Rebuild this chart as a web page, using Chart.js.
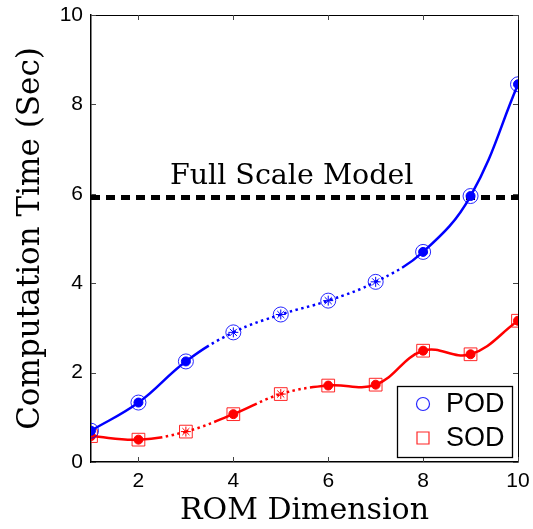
<!DOCTYPE html>
<html>
<head>
<meta charset="utf-8">
<script src="https://cdn.jsdelivr.net/npm/chart.js@4.4.0/dist/chart.umd.min.js"></script>
<style>
  html, body { margin: 0; padding: 0; background: #fff; }
  #wrap { width: 533px; height: 529px; }
</style>
</head>
<body>
<div id="wrap"><canvas id="romChart" width="533" height="529"></canvas></div>
<script>
// values
const romDims = [1, 2, 3, 4, 5, 6, 7, 8, 9, 10];
const podTime = [0.70, 1.33, 2.25, 2.90, 3.30, 3.61, 4.03, 4.70, 5.95, 8.45];
const sodTime = [0.58, 0.50, 0.68, 1.07, 1.52, 1.71, 1.73, 2.49, 2.41, 3.16];
// 'dot' = computed point, 'star' = interpolated point (dotted line around it)
const podMarks = ['dot', 'dot', 'dot', 'star', 'star', 'star', 'star', 'dot', 'dot', 'dot'];
const sodMarks = ['dot', 'dot', 'star', 'dot', 'star', 'dot', 'dot', 'dot', 'dot', 'dot'];
const fullScaleTime = 5.92;
const fullScaleLabel = 'Full Scale Model';
const xTickValues = [2, 4, 6, 8, 10];
const yTickValues = [0, 2, 4, 6, 8, 10];

const BLUE = '#0000ff';
const RED = '#ff0000';
const DOT = 2.5, GAP = 3.5;

function dotRun(len) {
    const out = [];
    const n = Math.ceil(len / (DOT + GAP));
    for (let i = 0; i < n; i++) out.push(DOT, GAP);
    return out;
}

// solid between computed points, dotted around interpolated ones (switching half way)
function dashFor(marks) {
    return function(ctx) {
        const a = marks[ctx.p0DataIndex] === 'star';
        const b = marks[ctx.p1DataIndex] === 'star';
        if (!a && !b) return [];
        if (a && b) return [DOT, GAP];
        const d = Math.hypot(ctx.p1.x - ctx.p0.x, ctx.p1.y - ctx.p0.y);
        if (b) return [d / 2, GAP].concat(dotRun(d / 2 + 30));
        return dotRun(d / 2).concat([d * 3, 1]);
    };
}

const toXY = vals => romDims.map((x, i) => ({ x: x, y: vals[i] }));

const frameAndLegend = {
    id: 'frameAndLegend',
    afterDatasetsDraw(chart, args, opts) {
        const { ctx, scales: { x, y } } = chart;
        ctx.save();
        // "Full Scale Model" label
        ctx.fillStyle = '#000';
        ctx.font = '28.5px "DejaVu Serif"';
        ctx.textAlign = 'center';
        ctx.textBaseline = 'alphabetic';
        ctx.fillText(fullScaleLabel, x.getPixelForValue(opts.labelAt[0]), y.getPixelForValue(opts.labelAt[1]));
        ctx.restore();
    },
    afterDraw(chart, args, opts) {
        const { ctx, chartArea: a, scales: { x, y } } = chart;
        ctx.save();
        // top + right edges of the box
        ctx.strokeStyle = '#000';
        ctx.lineWidth = 1;
        ctx.beginPath();
        ctx.moveTo(a.left, a.top + 0.5);
        ctx.lineTo(a.right + 0.5, a.top + 0.5);
        ctx.lineTo(a.right + 0.5, a.bottom);
        ctx.stroke();

        // inward tick marks on all four sides
        ctx.strokeStyle = '#444';
        ctx.beginPath();
        xTickValues.forEach(v => {
            const px = Math.round(x.getPixelForValue(v)) + 0.5;
            ctx.moveTo(px, a.bottom); ctx.lineTo(px, a.bottom - 5);
            ctx.moveTo(px, a.top); ctx.lineTo(px, a.top + 5);
        });
        yTickValues.forEach(v => {
            const py = Math.round(y.getPixelForValue(v)) + 0.5;
            ctx.moveTo(a.left, py); ctx.lineTo(a.left + 5, py);
            ctx.moveTo(a.right, py); ctx.lineTo(a.right - 5, py);
        });
        ctx.stroke();

        // legend box in the lower right corner
        const items = chart.data.datasets.filter(ds => ds.inLegend);
        const w = 115, h = 71;
        const bx = a.right - 6 - w, by = a.bottom - 5 - h;
        ctx.fillStyle = '#fff';
        ctx.fillRect(bx, by, w, h);
        ctx.strokeStyle = '#000';
        ctx.lineWidth = 1.3;
        ctx.strokeRect(bx + 0.5, by + 0.5, w, h);
        ctx.font = '27px "Liberation Sans"';
        ctx.textAlign = 'left';
        ctx.textBaseline = 'middle';
        items.forEach((ds, i) => {
            const cy = by + 18 + i * 34;
            const cx = bx + 26;
            ctx.strokeStyle = ds.pointBorderColor;
            ctx.lineWidth = 1.2;
            ctx.beginPath();
            if (ds.pointStyle === 'rect') {
                ctx.rect(cx - 6, cy - 6, 12, 12);
            } else {
                ctx.arc(cx, cy, 6.5, 0, Math.PI * 2);
            }
            ctx.stroke();
            ctx.fillStyle = '#000';
            ctx.fillText(ds.label, bx + 49, cy + 1);
        });
        ctx.restore();
    }
};

new Chart(document.getElementById('romChart'), {
    type: 'line',
    data: {
        datasets: [
            {
                label: 'POD',
                inLegend: true,
                data: toXY(podTime),
                showLine: false,
                pointStyle: 'circle',
                pointRadius: 7.5,
                pointBorderWidth: 1,
                pointBorderColor: 'rgba(0, 0, 255, 0.85)',
                pointBackgroundColor: 'rgba(0, 0, 0, 0)'
            },
            {
                label: 'POD curve',
                data: toXY(podTime),
                borderColor: BLUE,
                borderWidth: 2.5,
                tension: 0.4,
                pointStyle: podMarks.map(m => m === 'star' ? 'star' : 'circle'),
                pointRadius: podMarks.map(m => m === 'star' ? 5 : 4.5),
                pointBorderWidth: 1,
                pointBorderColor: BLUE,
                pointBackgroundColor: BLUE,
                segment: { borderDash: dashFor(podMarks) }
            },
            {
                label: 'SOD',
                inLegend: true,
                data: toXY(sodTime),
                showLine: false,
                pointStyle: 'rect',
                pointRadius: 9,
                pointBorderWidth: 1,
                pointBorderColor: 'rgba(255, 0, 0, 0.85)',
                pointBackgroundColor: 'rgba(0, 0, 0, 0)'
            },
            {
                label: 'SOD curve',
                data: toXY(sodTime),
                borderColor: RED,
                borderWidth: 2.5,
                tension: 0.4,
                pointStyle: sodMarks.map(m => m === 'star' ? 'star' : 'circle'),
                pointRadius: sodMarks.map(m => m === 'star' ? 5 : 4.5),
                pointBorderWidth: 1,
                pointBorderColor: RED,
                pointBackgroundColor: RED,
                segment: { borderDash: dashFor(sodMarks) }
            },
            {
                label: fullScaleLabel,
                data: [
                    { x: romDims[0], y: fullScaleTime },
                    { x: romDims[romDims.length - 1], y: fullScaleTime }
                ],
                borderColor: '#000',
                borderWidth: 5,
                borderDash: [9, 6],
                pointRadius: 0
            }
        ]
    },
    options: {
        responsive: false,
        animation: false,
        events: [],
        layout: { autoPadding: false, padding: { top: 15, right: 15, left: 0, bottom: 0 } },
        plugins: {
            legend: { display: false },
            tooltip: { enabled: false },
            frameAndLegend: { labelAt: [5.23, 6.22] }
        },
        scales: {
            x: {
                type: 'linear',
                min: 1,
                max: 10,
                afterBuildTicks: s => { s.ticks = xTickValues.map(v => ({ value: v })); },
                afterFit: s => { s.height = 67; s.paddingLeft = 0; s.paddingRight = 0; },
                grid: { display: false, drawTicks: false },
                border: { display: true, color: '#000', width: 1.5 },
                ticks: {
                    padding: 7,
                    color: '#000',
                    maxRotation: 0,
                    font: { family: 'Liberation Sans', size: 21 }
                },
                title: {
                    display: true,
                    text: 'ROM Dimension',
                    color: '#000',
                    padding: { top: 0, bottom: 0 },
                    font: { family: 'DejaVu Serif', size: 30 }
                }
            },
            y: {
                type: 'linear',
                min: 0,
                max: 10,
                afterBuildTicks: s => { s.ticks = yTickValues.map(v => ({ value: v })); },
                afterFit: s => { s.width = 91; s.paddingTop = 0; s.paddingBottom = 0; },
                grid: { display: false, drawTicks: false },
                border: { display: true, color: '#000', width: 1.5 },
                ticks: {
                    padding: 8,
                    color: '#000',
                    font: { family: 'Liberation Sans', size: 21 }
                },
                title: {
                    display: true,
                    text: 'Computation Time (Sec)',
                    color: '#000',
                    padding: { top: 12, bottom: 0 },
                    font: { family: 'DejaVu Serif', size: 31 }
                }
            }
        }
    },
    plugins: [frameAndLegend]
});
</script>
</body>
</html>
